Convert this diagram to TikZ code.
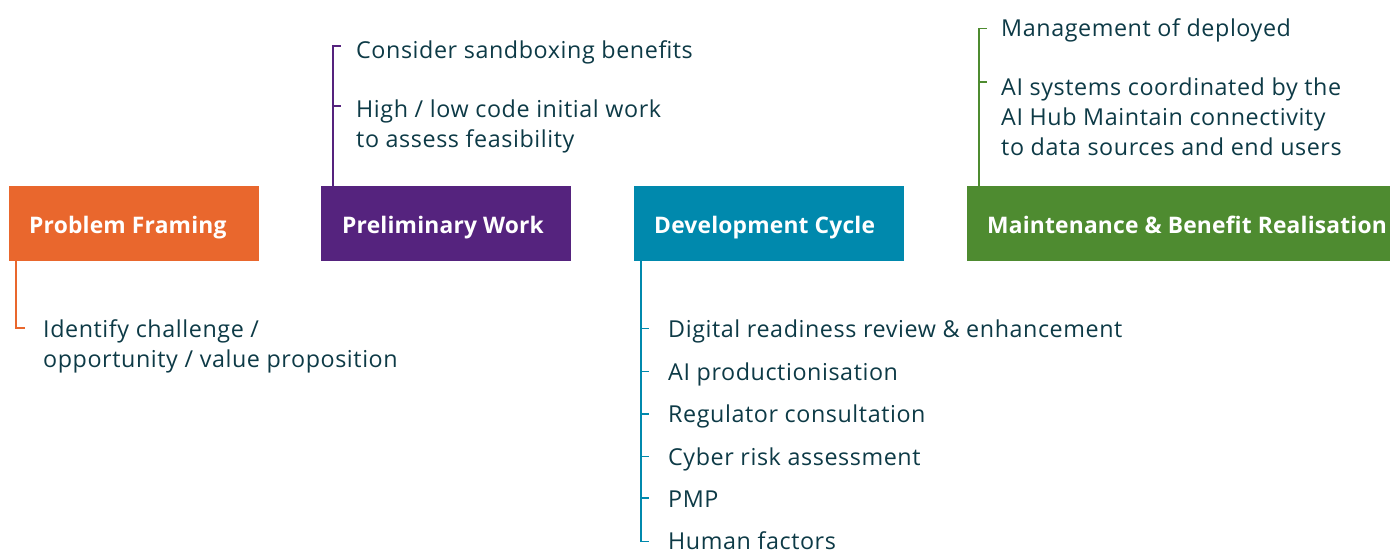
\documentclass[tikz,border=0pt]{standalone}
\usepackage{fontspec}
\setmainfont{Open Sans}
\newfontfamily\itemfont{Open Sans}[LetterSpace=2.5]
\newfontfamily\stagefont{Open Sans}[LetterSpace=0.8]
\definecolor{cOrange}{RGB}{233,103,45}
\definecolor{cPurple}{RGB}{85,35,126}
\definecolor{cTeal}{RGB}{0,137,173}
\definecolor{cGreen}{RGB}{78,139,48}
\definecolor{cText}{RGB}{13,58,70}
\begin{document}
\begin{tikzpicture}[x=1pt,y=-1pt,
  stagebox/.style={fill=#1, draw=none, inner sep=0pt, outer sep=0pt},
  stagelabel/.style={anchor=base west, inner sep=0pt, text=white, font=\stagefont\fontsize{22.8}{28}\selectfont\bfseries},
  item/.style={anchor=base west, inner sep=0pt, text=cText, align=left, font=\itemfont\fontsize{23.3}{30}\selectfont},
  conn/.style={draw=#1, line width=1.3pt}
]
\useasboundingbox (0,0) rectangle (1390,550);
% stage boxes
\path[stagebox=cOrange] (9,186) rectangle (259,261);
\path[stagebox=cPurple] (321,186) rectangle (571,261);
\path[stagebox=cTeal] (634,186) rectangle (904,261);
\path[stagebox=cGreen] (967,186) rectangle (1390,261);
\node[stagelabel] (pf) at (29,233) {Problem Framing};
\node[stagelabel] (pw) at (342,233) {Preliminary Work};
\node[stagelabel] (dc) at (654,233) {Development Cycle};
\node[stagelabel] (mb) at (987,233) {Maintenance \& Benefit Realisation};
% anchor coordinates on boxes
\coordinate (pfA) at (16,261);
\coordinate (pwA) at (333,186);
\coordinate (dcA) at (641,261);
\coordinate (mbA) at (979,186);
% problem framing items (base = last line baseline)
\node[item] (pf1) at (43,367) {Identify challenge /\\opportunity / value proposition};
\coordinate (pfT1) at (16,328);
\coordinate (pfE1) at (25,328);
\draw[conn=cOrange] (pfA) -- (pfT1) -- (pfE1);
% preliminary work items
\node[item] (pw1) at (356,58) {Consider sandboxing benefits};
\node[item] (pw2) at (356,147) {High / low code initial work\\to assess feasibility};
\coordinate (pwT1) at (333,46);
\coordinate (pwT2) at (333,106);
\draw[conn=cPurple] (pwA) -- (pwT1) -- ++(8,0);
\draw[conn=cPurple] (pwT2) -- ++(8,0);
% development cycle items
\node[item] (dc1) at (668,337) {Digital readiness review \& enhancement};
\node[item] (dc2) at (668,380) {AI productionisation};
\node[item] (dc3) at (668,422.5) {Regulator consultation};
\node[item] (dc4) at (668,465) {Cyber risk assessment};
\node[item] (dc5) at (668,507) {PMP};
\node[item] (dc6) at (668,549) {Human factors};
\coordinate (dcT1) at (641,328.5);
\coordinate (dcT2) at (641,371.5);
\coordinate (dcT3) at (641,414);
\coordinate (dcT4) at (641,456.5);
\coordinate (dcT5) at (641,498);
\coordinate (dcT6) at (641,541.5);
\draw[conn=cTeal] (dcA) -- (dcT6) -- ++(8,0);
\foreach \t in {dcT1,dcT2,dcT3,dcT4,dcT5}
  \draw[conn=cTeal] (\t) -- ++(8,0);
% maintenance items
\node[item] (mb1) at (1001,36) {Management of deployed};
\node[item] (mb2) at (1001,155) {AI systems coordinated by the\\AI Hub Maintain connectivity\\to data sources and end users};
\coordinate (mbT1) at (979,28.5);
\coordinate (mbT2) at (979,82);
\draw[conn=cGreen] (mbA) -- (mbT1) -- ++(8,0);
\draw[conn=cGreen] (mbT2) -- ++(8,0);
\end{tikzpicture}
\end{document}
